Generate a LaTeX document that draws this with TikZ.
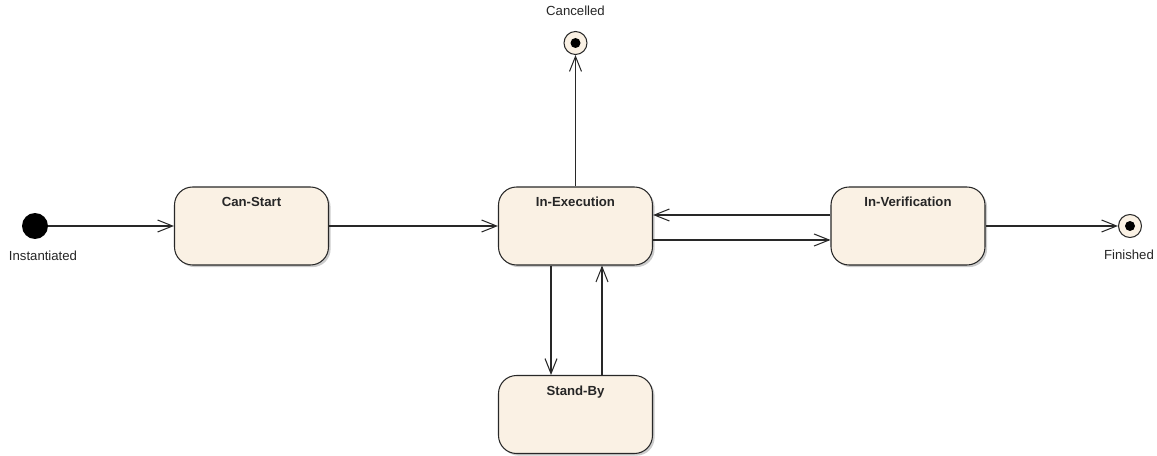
\documentclass[tikz,border=0pt]{standalone}
\usepackage{fontspec}
\setsansfont{Liberation Sans}
\usetikzlibrary{arrows.meta,shadows}
\definecolor{statefill}{RGB}{250,241,228}
\definecolor{edgecol}{RGB}{40,40,40}

\begin{document}
\begin{tikzpicture}[x=0.02cm,y=-0.02cm,
  every node/.style={font=\sffamily\fontsize{7.5}{9}\selectfont,text=black!85},
  statebox/.style={draw=edgecol,line width=0.6pt,fill=statefill,rounded corners=0.36cm,
    minimum width=3.08cm,minimum height=1.56cm,
    drop shadow={shadow xshift=1.2pt,shadow yshift=-1.2pt,fill=black!40,opacity=0.5}},
  stitle/.style={anchor=north,yshift=-2.5pt,font=\sffamily\bfseries\fontsize{7.5}{9}\selectfont},
  initstate/.style={circle,fill=black,minimum size=0.52cm,inner sep=0pt},
  finalstate/.style={circle,draw=edgecol,line width=0.6pt,fill=statefill,minimum size=0.46cm,inner sep=0pt,
    path picture={\fill[black] (path picture bounding box.center) circle (0.1cm);}},
  trans/.style={draw=edgecol,line width=0.6pt,-{Straight Barb[length=3mm,width=2.4mm]}}]
\useasboundingbox (0,0) rectangle (1157,456);
% states
\node[initstate,label={[xshift=0.16cm,label distance=3pt]below:Instantiated}] (init) at (35,226) {};
\node[statebox,label={[stitle]north:Can-Start}] (cs) at (251.5,226) {};
\node[statebox,label={[stitle]north:In-Execution}] (ie) at (575.5,226) {};
\node[statebox,label={[stitle]north:In-Verification}] (iv) at (908,226) {};
\node[statebox,label={[stitle]north:Stand-By}] (sb) at (575.5,414.5) {};
\node[finalstate,label={[label distance=5pt]above:Cancelled}] (cancel) at (575.5,43) {};
\node[finalstate,label={[xshift=-0.02cm,label distance=3pt]below:Finished}] (fin) at (1130,226) {};
% transitions
\draw[trans] (init) -- (cs);
\draw[trans] (cs) -- (ie);
\draw[trans] (ie) -- (cancel);
\draw[trans] ([yshift=-0.28cm]ie.east) -- ([yshift=-0.28cm]iv.west);
\draw[trans] ([yshift=0.22cm]iv.west) -- ([yshift=0.22cm]ie.east);
\draw[trans] (iv) -- (fin);
\draw[trans] ([xshift=-0.49cm]ie.south) -- ([xshift=-0.49cm]sb.north);
\draw[trans] ([xshift=0.53cm]sb.north) -- ([xshift=0.53cm]ie.south);
\end{tikzpicture}
\end{document}
